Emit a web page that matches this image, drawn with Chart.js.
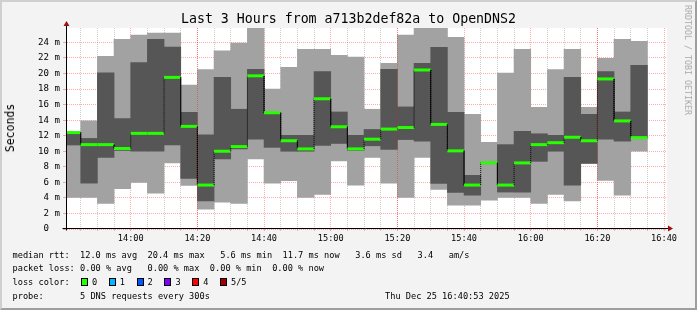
<!doctype html>
<html>
<head>
<meta charset="utf-8" />
<title>Last 3 Hours from a713b2def82a to OpenDNS2</title>
<script src="https://cdn.jsdelivr.net/npm/chart.js@4.4.1/dist/chart.umd.min.js"></script>
<style>
html, body { margin: 0; padding: 0; background: #fff; }
#frame {
  position: relative; width: 697px; height: 310px; overflow: hidden;
  background: #f3f3f3; color: #000;
  font-family: "DejaVu Sans Mono", monospace;
}
#frame canvas { position: absolute; left: 0; top: 0; }
#edge {
  position: absolute; left: 0; top: 0; width: 697px; height: 310px; box-sizing: border-box;
  border: 2px solid; border-color: #cfcfcf #9e9e9e #9e9e9e #cfcfcf; pointer-events: none;
}
#title { position: absolute; left: 0; top: 11px; width: 697px; text-align: center; font-size: 13.25px; line-height: 16px; white-space: pre; }
#ylabel { position: absolute; left: 10px; top: 128px; transform: translate(-50%, -50%) rotate(-90deg); font-size: 11.5px; white-space: pre; }
#credit { position: absolute; left: 688px; top: 60px; transform: translate(-50%, -50%) rotate(90deg); font-size: 8.3px; color: #aaa; white-space: pre; }
.row { position: absolute; left: 12.5px; font-size: 8.65px; line-height: 12px; white-space: pre; }
.right { left: auto; right: 187px; }
#swatches { position: absolute; left: 81px; top: 276px; height: 12px; display: flex; }
#swatches .item { width: 27.8px; font-size: 8.65px; line-height: 12px; white-space: pre; display: flex; align-items: center; }
#swatches .sq { width: 7px; height: 8px; box-sizing: border-box; border: 1px solid #000; margin-right: 4px; }
</style>
</head>
<body>
<div id="frame">
  <canvas id="smoke" width="697" height="310"></canvas>
  <div id="title">Last 3 Hours from a713b2def82a to OpenDNS2</div>
  <div id="ylabel">Seconds</div>
  <div id="credit">RRDTOOL / TOBI OETIKER</div>
  <div class="row" style="top:249px">median rtt:  12.0 ms avg  20.4 ms max   5.6 ms min  11.7 ms now   3.6 ms sd   3.4   am/s</div>
  <div class="row" style="top:262px">packet loss: 0.00 % avg   0.00 % max  0.00 % min  0.00 % now</div>
  <div class="row" style="top:276px">loss color:</div>
  <div id="swatches"></div>
  <div class="row" style="top:290px">probe:       5 DNS requests every 300s</div>
  <div class="row" style="top:290px; left:385px">Thu Dec 25 16:40:53 2025</div>
  <div id="edge"></div>
</div>
<script>
// time window of the graph
const rangeStart = '13:40:53';
const rangeEnd = '16:40:53';
const hourMarks = ['14:20', '15:20', '16:20'];

// end of each 5 minute step
const sampleTimes = ['13:45','13:50','13:55','14:00','14:05','14:10','14:15','14:20','14:25','14:30',
  '14:35','14:40','14:45','14:50','14:55','15:00','15:05','15:10','15:15','15:20',
  '15:25','15:30','15:35','15:40','15:45','15:50','15:55','16:00','16:05','16:10',
  '16:15','16:20','16:25','16:30','16:35'];

// 5 pings per step, sorted (ms)
const pingMin = [4.05, 4.05, 3.28, 5.2, 6.0, 4.6, 8.5, 5.6, 2.55, 3.45,
  3.3, 9.0, 5.9, 6.2, 4.05, 4.45, 8.75, 5.65, 9.2, 5.9,
  4.05, 9.2, 5.1, 3.05, 3.05, 3.7, 4.05, 4.05, 3.3, 4.45,
  3.6, 8.4, 6.25, 4.35, 10.0];
const ping2 = [10.8, 5.9, 9.2, 10.1, 10.0, 10.0, 10.8, 6.5, 3.6, 9.0,
  10.3, 11.55, 10.5, 10.0, 10.0, 10.75, 11.0, 10.1, 10.7, 10.25,
  11.5, 11.3, 5.85, 4.7, 4.35, 8.45, 4.75, 4.75, 8.7, 10.0,
  5.65, 8.45, 11.55, 11.3, 11.7];
const medianRtt = [12.4, 10.85, 10.85, 10.35, 12.3, 12.3, 19.5, 13.2, 5.65, 10.0,
  10.6, 19.7, 14.95, 11.35, 10.3, 16.75, 13.15, 10.3, 11.55, 12.85,
  13.05, 20.45, 13.45, 10.05, 5.65, 8.5, 5.65, 8.5, 10.85, 11.1,
  11.8, 11.35, 19.3, 13.9, 11.75];
const ping4 = [12.4, 11.65, 20.1, 14.2, 21.4, 24.4, 23.4, 15.0, 12.1, 19.5,
  15.4, 20.55, 15.0, 12.05, 12.05, 20.25, 15.05, 12.05, 12.8, 20.55,
  15.7, 21.3, 23.35, 15.0, 6.9, 8.55, 10.85, 12.55, 12.25, 12.05,
  19.5, 14.75, 20.25, 15.05, 21.05];
const pingMax = [12.5, 13.9, 22.2, 24.4, 24.95, 25.2, 25.2, 18.5, 20.5, 22.9,
  23.9, 25.9, 18.0, 20.8, 23.1, 23.1, 22.35, 22.1, 15.4, 21.3,
  24.95, 25.9, 25.9, 24.65, 14.75, 11.15, 20.05, 23.1, 15.65, 20.5,
  23.1, 15.65, 21.95, 24.4, 24.15];

const yTop = 25.85;
const lossColors = ['#26ff00', '#00b8ff', '#0059ff', '#7e00ff', '#ff0000', '#a00000'];
const lossLabels = ['0', '1', '2', '3', '4', '5/5'];

const sw = document.getElementById('swatches');
lossColors.forEach((c, i) => {
  const it = document.createElement('div');
  it.className = 'item';
  it.innerHTML = '<span class="sq" style="background:' + c + '"></span><span>' + lossLabels[i] + '</span>';
  sw.appendChild(it);
});

const toMin = (s) => {
  const p = s.split(':').map(Number);
  return p[0] * 60 + p[1] + (p[2] || 0) / 60;
};
const fmt = (v) => {
  const h = Math.floor(v / 60), m = Math.round(v % 60);
  return String(h).padStart(2, '0') + ':' + String(m).padStart(2, '0');
};

const xMin = toMin(rangeStart), xMax = toMin(rangeEnd);
const xGrid = [];
for (let t = Math.ceil(xMin / 5) * 5; t <= xMax; t += 5) xGrid.push(t);
const yGrid = [];
for (let v = 0; v <= Math.floor(yTop); v++) yGrid.push(v);

const MAJOR = 'rgba(255,0,0,0.33)';
const MINOR = 'rgba(130,130,130,0.4)';
const GREEN = lossColors[0];

const outer = sampleTimes.map((t, i) => ({ x: toMin(t) - 2.5, y: [pingMin[i], pingMax[i]] }));
const inner = sampleTimes.map((t, i) => ({ x: toMin(t) - 2.5, y: [ping2[i], ping4[i]] }));
const medPts = [];
sampleTimes.forEach((t, i) => {
  medPts.push({ x: toMin(t) - 5, y: medianRtt[i] });
  medPts.push({ x: toMin(t), y: medianRtt[i] });
});

Chart.defaults.font.family = "'DejaVu Sans Mono', monospace";

const alignPx = (p) => Math.round(p - 0.5) + 0.5;

const rrdLook = {
  id: 'rrdLook',
  beforeDraw(chart) {
    const { ctx, chartArea: a } = chart;
    ctx.save();
    ctx.fillStyle = '#ffffff';
    ctx.fillRect(a.left, a.top, a.right - a.left, a.bottom - a.top);
    ctx.restore();
  },
  afterDatasetsDraw(chart) {
    const { ctx, chartArea: a, scales } = chart;
    ctx.save();
    // hourly marks drawn over the smoke
    ctx.strokeStyle = MAJOR;
    ctx.lineWidth = 1;
    ctx.setLineDash([1, 1]);
    hourMarks.forEach((h) => {
      const x = alignPx(scales.x.getPixelForValue(toMin(h)));
      ctx.beginPath();
      ctx.moveTo(x, a.top);
      ctx.lineTo(x, a.bottom);
      ctx.stroke();
    });
    ctx.setLineDash([]);
    // axes
    const x0 = a.left - 0.5;
    const y0 = alignPx(scales.y.getPixelForValue(0)) - 1;
    ctx.strokeStyle = '#000';
    ctx.beginPath();
    ctx.moveTo(x0, y0 + 2);
    ctx.lineTo(x0, a.top - 2);
    ctx.moveTo(x0 - 4, y0);
    ctx.lineTo(a.right + 1, y0);
    ctx.stroke();
    ctx.fillStyle = '#9c1010';
    ctx.beginPath();
    ctx.moveTo(x0, a.top - 7);
    ctx.lineTo(x0 - 3, a.top - 2);
    ctx.lineTo(x0 + 3, a.top - 2);
    ctx.closePath();
    ctx.fill();
    ctx.beginPath();
    ctx.moveTo(a.right + 6, y0);
    ctx.lineTo(a.right + 1, y0 - 3);
    ctx.lineTo(a.right + 1, y0 + 3);
    ctx.closePath();
    ctx.fill();
    ctx.restore();
  }
};

new Chart(document.getElementById('smoke'), {
  type: 'bar',
  data: {
    datasets: [
      {
        label: 'min-max', data: outer, order: 3, grouped: false, clip: 0,
        backgroundColor: '#a2a2a2', borderWidth: 0, barPercentage: 1, categoryPercentage: 1
      },
      {
        label: 'inner', data: inner, order: 2, grouped: false, clip: 0,
        backgroundColor: '#565656', borderWidth: 0, barPercentage: 1, categoryPercentage: 1
      },
      {
        type: 'line', label: 'median', data: medPts, order: 1, clip: 0,
        pointRadius: 0, tension: 0, borderColor: '#000', borderWidth: 1,
        segment: {
          borderColor: (c) => c.p0DataIndex % 2 === 0 ? GREEN : '#000',
          borderWidth: (c) => c.p0DataIndex % 2 === 0 ? 3 : 1,
          borderDash: (c) => c.p0DataIndex % 2 === 0 ? [] : [1, 1]
        }
      }
    ]
  },
  options: {
    responsive: false,
    animation: false,
    devicePixelRatio: 1,
    layout: { padding: { top: 28, right: 30, left: 0, bottom: 0 } },
    plugins: { legend: { display: false }, tooltip: { enabled: false }, title: { display: false } },
    scales: {
      x: {
        type: 'linear', min: xMin, max: xMax, offset: false,
        afterBuildTicks: (s) => { s.ticks = xGrid.map((v) => ({ value: v })); },
        afterFit: (s) => { s.height = 81; },
        ticks: {
          autoSkip: false, maxRotation: 0, minRotation: 0, padding: 3,
          color: '#000', font: { size: 8.65 },
          callback: (v) => (v % 20 === 0 ? fmt(v) : '')
        },
        grid: {
          offset: false, lineWidth: 1, tickLength: 2,
          color: (c) => (c.tick && c.tick.value % 20 === 0 ? MAJOR : MINOR)
        },
        border: { display: false, dash: [1, 1] }
      },
      y: {
        min: 0, max: yTop,
        afterBuildTicks: (s) => { s.ticks = yGrid.map((v) => ({ value: v })); },
        afterFit: (s) => { s.width = 67; },
        ticks: {
          padding: 3, color: '#000', font: { size: 9.1 },
          callback: (v) => (v % 2 ? '' : (v === 0 ? '0  ' : v + ' m'))
        },
        grid: {
          lineWidth: 1, tickLength: 4,
          color: (c) => (c.tick && c.tick.value % 2 === 0 ? MAJOR : MINOR)
        },
        border: { display: false, dash: [1, 1] }
      }
    }
  },
  plugins: [rrdLook]
});
</script>
</body>
</html>
